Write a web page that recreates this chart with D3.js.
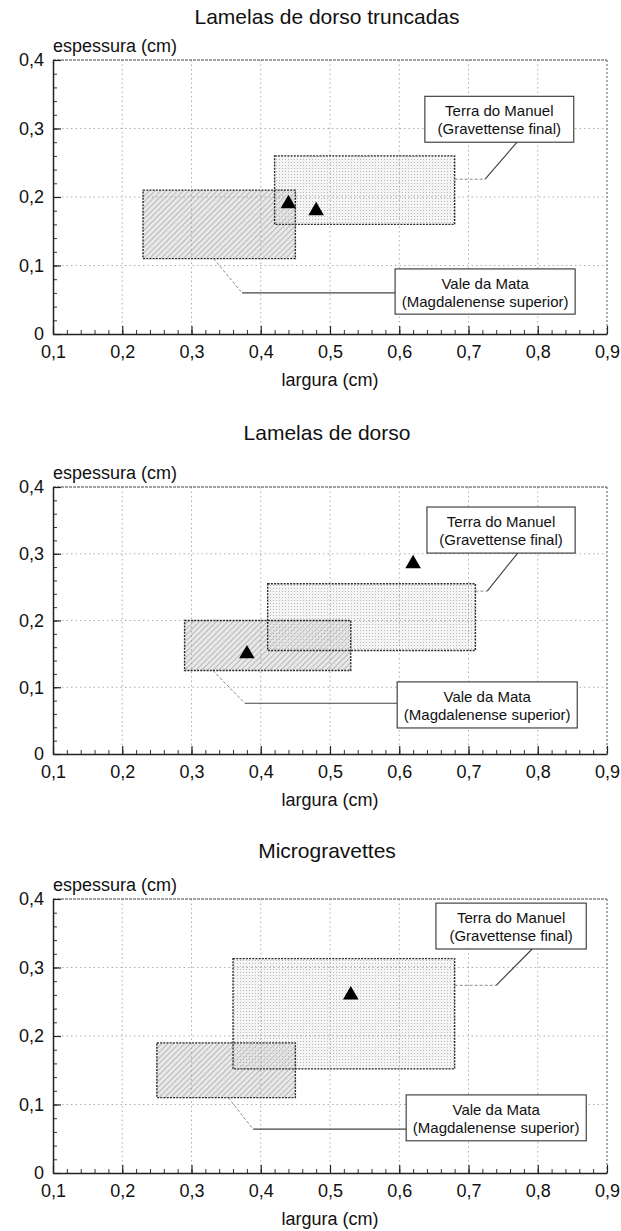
<!DOCTYPE html>
<html>
<head>
<meta charset="utf-8">
<script src="https://cdn.jsdelivr.net/npm/d3@7"></script>
<style>
  body { margin: 0; background: #fff; }
  svg text { font-family: "Liberation Sans", Arial, Helvetica, sans-serif; fill: #111; }
</style>
</head>
<body>
<script>
// chart data
const chartTitles = ["Lamelas de dorso truncadas", "Lamelas de dorso", "Microgravettes"];
const xTicks = [0.1, 0.2, 0.3, 0.4, 0.5, 0.6, 0.7, 0.8, 0.9];
const yTicks = [0, 0.1, 0.2, 0.3, 0.4];
const xLabel = "largura (cm)";
const yLabel = "espessura (cm)";
const terraLabel = ["Terra do Manuel", "(Gravettense final)"];
const valeLabel = ["Vale da Mata", "(Magdalenense superior)"];

// ranges as [xmin, xmax, ymin, ymax]
const valeRanges = [[0.23, 0.45, 0.11, 0.21], [0.29, 0.53, 0.125, 0.20], [0.25, 0.45, 0.11, 0.19]];
const terraRanges = [[0.42, 0.68, 0.16, 0.26], [0.41, 0.71, 0.155, 0.255], [0.36, 0.68, 0.152, 0.313]];
// triangles [x, y]
const points = [[[0.44, 0.19], [0.48, 0.18]], [[0.38, 0.15], [0.62, 0.285]], [[0.53, 0.26]]];

// annotation boxes and leader lines (data units)
const terraBoxes = [[0.637, 0.852, 0.280, 0.347], [0.640, 0.854, 0.301, 0.370], [0.653, 0.870, 0.327, 0.394]];
const valeBoxes = [[0.594, 0.854, 0.029, 0.095], [0.597, 0.857, 0.039, 0.108], [0.610, 0.870, 0.047, 0.114]];
const terraLeaders = [[[0.68, 0.226], [0.724, 0.226], [0.770, 0.280]],
                      [[0.71, 0.244], [0.727, 0.244], [0.771, 0.301]],
                      [[0.68, 0.274], [0.740, 0.274], [0.792, 0.327]]];
const valeLeaders = [[[0.332, 0.11], [0.373, 0.060], [0.594, 0.060]],
                     [[0.331, 0.125], [0.377, 0.076], [0.597, 0.076]],
                     [[0.353, 0.11], [0.389, 0.064], [0.610, 0.064]]];

// layout
const width = 621, height = 1231;
const plotLeft = 53, plotRight = 607;
const panels = [
    { top: 60, bottom: 334, titleY: 24 },
    { top: 487, bottom: 754, titleY: 440 },
    { top: 899, bottom: 1173, titleY: 858 }
];

const fmt = v => v === 0 ? "0" : d3.format(".1f")(v).replace(".", ",");

const svg = d3.select("body").append("svg")
    .attr("width", width)
    .attr("height", height);

// fill patterns
const defs = svg.append("defs");
const hatch = defs.append("pattern")
    .attr("id", "hatch")
    .attr("width", 4).attr("height", 4)
    .attr("patternUnits", "userSpaceOnUse")
    .attr("patternTransform", "rotate(45)");
hatch.append("rect").attr("width", 4).attr("height", 4).attr("fill", "#e8e8e8");
hatch.append("line").attr("x1", 0).attr("y1", 0).attr("x2", 0).attr("y2", 4)
    .attr("stroke", "#9a9a9a").attr("stroke-width", 1.2);

const dots = defs.append("pattern")
    .attr("id", "dots")
    .attr("width", 3).attr("height", 3)
    .attr("patternUnits", "userSpaceOnUse");
dots.append("rect").attr("width", 3).attr("height", 3).attr("fill", "rgba(225,225,225,0.35)");
dots.append("rect").attr("width", 1).attr("height", 1).attr("fill", "#b8b8b8");

const minorX = d3.range(0.1, 0.9001, 0.02);
const minorY = d3.range(0, 0.4001, 0.02);

panels.forEach((p, i) => {
    const x = d3.scaleLinear().domain([0.1, 0.9]).range([plotLeft, plotRight]);
    const y = d3.scaleLinear().domain([0, 0.4]).range([p.bottom, p.top]);
    const g = svg.append("g");

    // title
    g.append("text")
        .attr("x", (plotLeft + plotRight) / 2 - 3)
        .attr("y", p.titleY)
        .attr("text-anchor", "middle")
        .style("font-size", "21px")
        .text(chartTitles[i]);

    // y label
    g.append("text")
        .attr("x", plotLeft)
        .attr("y", p.top - 8)
        .style("font-size", "18px")
        .text(yLabel);

    // x label
    g.append("text")
        .attr("x", (plotLeft + plotRight) / 2)
        .attr("y", p.bottom + 52)
        .attr("text-anchor", "middle")
        .style("font-size", "18px")
        .text(xLabel);

    // ranges
    const vr = valeRanges[i];
    g.append("rect")
        .attr("x", x(vr[0])).attr("y", y(vr[3]))
        .attr("width", x(vr[1]) - x(vr[0]))
        .attr("height", y(vr[2]) - y(vr[3]))
        .attr("fill", "url(#hatch)");

    const tr = terraRanges[i];
    g.append("rect")
        .attr("x", x(tr[0])).attr("y", y(tr[3]))
        .attr("width", x(tr[1]) - x(tr[0]))
        .attr("height", y(tr[2]) - y(tr[3]))
        .attr("fill", "url(#dots)");

    // grid
    g.append("g").selectAll("line")
        .data(xTicks.slice(1, -1))
        .join("line")
        .attr("x1", d => x(d)).attr("x2", d => x(d))
        .attr("y1", p.top).attr("y2", p.bottom)
        .attr("stroke", "#999").attr("stroke-width", 0.8)
        .attr("stroke-dasharray", "1.5,3");
    g.append("g").selectAll("line")
        .data(yTicks.slice(1, -1))
        .join("line")
        .attr("y1", d => y(d)).attr("y2", d => y(d))
        .attr("x1", plotLeft).attr("x2", plotRight)
        .attr("stroke", "#999").attr("stroke-width", 0.8)
        .attr("stroke-dasharray", "1.5,3");

    // range borders
    [vr, tr].forEach(r => {
        g.append("rect")
            .attr("x", x(r[0])).attr("y", y(r[3]))
            .attr("width", x(r[1]) - x(r[0]))
            .attr("height", y(r[2]) - y(r[3]))
            .attr("fill", "none")
            .attr("stroke", "#2a2a2a")
            .attr("stroke-width", 1.4)
            .attr("stroke-dasharray", "2,1.2");
    });

    // leader lines
    const line = d3.line().x(d => x(d[0])).y(d => y(d[1]));
    [terraLeaders[i], valeLeaders[i]].forEach(l => {
        g.append("path")
            .attr("d", line(l.slice(0, 2)))
            .attr("fill", "none")
            .attr("stroke", "#888")
            .attr("stroke-width", 1)
            .attr("stroke-dasharray", "3,2");
        g.append("path")
            .attr("d", line(l.slice(1)))
            .attr("fill", "none")
            .attr("stroke", "#444")
            .attr("stroke-width", 1.2);
    });

    // label boxes
    [[terraBoxes[i], terraLabel], [valeBoxes[i], valeLabel]].forEach(([b, lbl]) => {
        const bx = x(b[0]), by = y(b[3]);
        g.append("rect")
            .attr("x", bx).attr("y", by)
            .attr("width", x(b[1]) - bx)
            .attr("height", y(b[2]) - by)
            .attr("fill", "#fff")
            .attr("stroke", "#333")
            .attr("stroke-width", 1.1);
        lbl.forEach((t, k) => {
            g.append("text")
                .attr("x", (bx + x(b[1])) / 2)
                .attr("y", by + 20 + k * 18)
                .attr("text-anchor", "middle")
                .style("font-size", "15px")
                .text(t);
        });
    });

    // triangles
    g.selectAll(".pt")
        .data(points[i])
        .join("path")
        .attr("class", "pt")
        .attr("transform", d => `translate(${x(d[0])},${y(d[1])})`)
        .attr("d", d3.symbol().type(d3.symbolTriangle).size(105))
        .attr("fill", "#000");

    // frame top/right
    g.append("line")
        .attr("x1", plotLeft).attr("x2", plotRight)
        .attr("y1", p.top).attr("y2", p.top)
        .attr("stroke", "#444").attr("stroke-width", 1.2)
        .attr("stroke-dasharray", "3,1");
    g.append("line")
        .attr("x1", plotRight).attr("x2", plotRight)
        .attr("y1", p.top).attr("y2", p.bottom)
        .attr("stroke", "#555").attr("stroke-width", 1)
        .attr("stroke-dasharray", "2,2");

    // minor ticks
    g.append("g")
        .attr("transform", `translate(0,${p.bottom})`)
        .call(d3.axisBottom(x).tickValues(minorX).tickSize(-4).tickFormat(""))
        .call(a => a.select(".domain").remove())
        .selectAll("line").attr("stroke", "#333");
    g.append("g")
        .attr("transform", `translate(${plotLeft},0)`)
        .call(d3.axisLeft(y).tickValues(minorY).tickSize(-4).tickFormat(""))
        .call(a => a.select(".domain").remove())
        .selectAll("line").attr("stroke", "#333");

    // main axes
    const xa = g.append("g")
        .attr("transform", `translate(0,${p.bottom})`)
        .call(d3.axisBottom(x).tickValues(xTicks).tickSize(-8).tickSizeOuter(0).tickPadding(11).tickFormat(fmt));
    const ya = g.append("g")
        .attr("transform", `translate(${plotLeft},0)`)
        .call(d3.axisLeft(y).tickValues(yTicks).tickSize(-8).tickSizeOuter(0).tickPadding(9).tickFormat(fmt));
    [xa, ya].forEach(a => {
        a.select(".domain").attr("stroke", "#222").attr("stroke-width", 1.5);
        a.selectAll(".tick line").attr("stroke", "#222").attr("stroke-width", 1.2);
        a.selectAll("text")
            .style("font-size", "18px")
            .style("font-family", "'Liberation Sans', Arial, sans-serif")
            .attr("fill", "#111");
    });
});
</script>
</body>
</html>
